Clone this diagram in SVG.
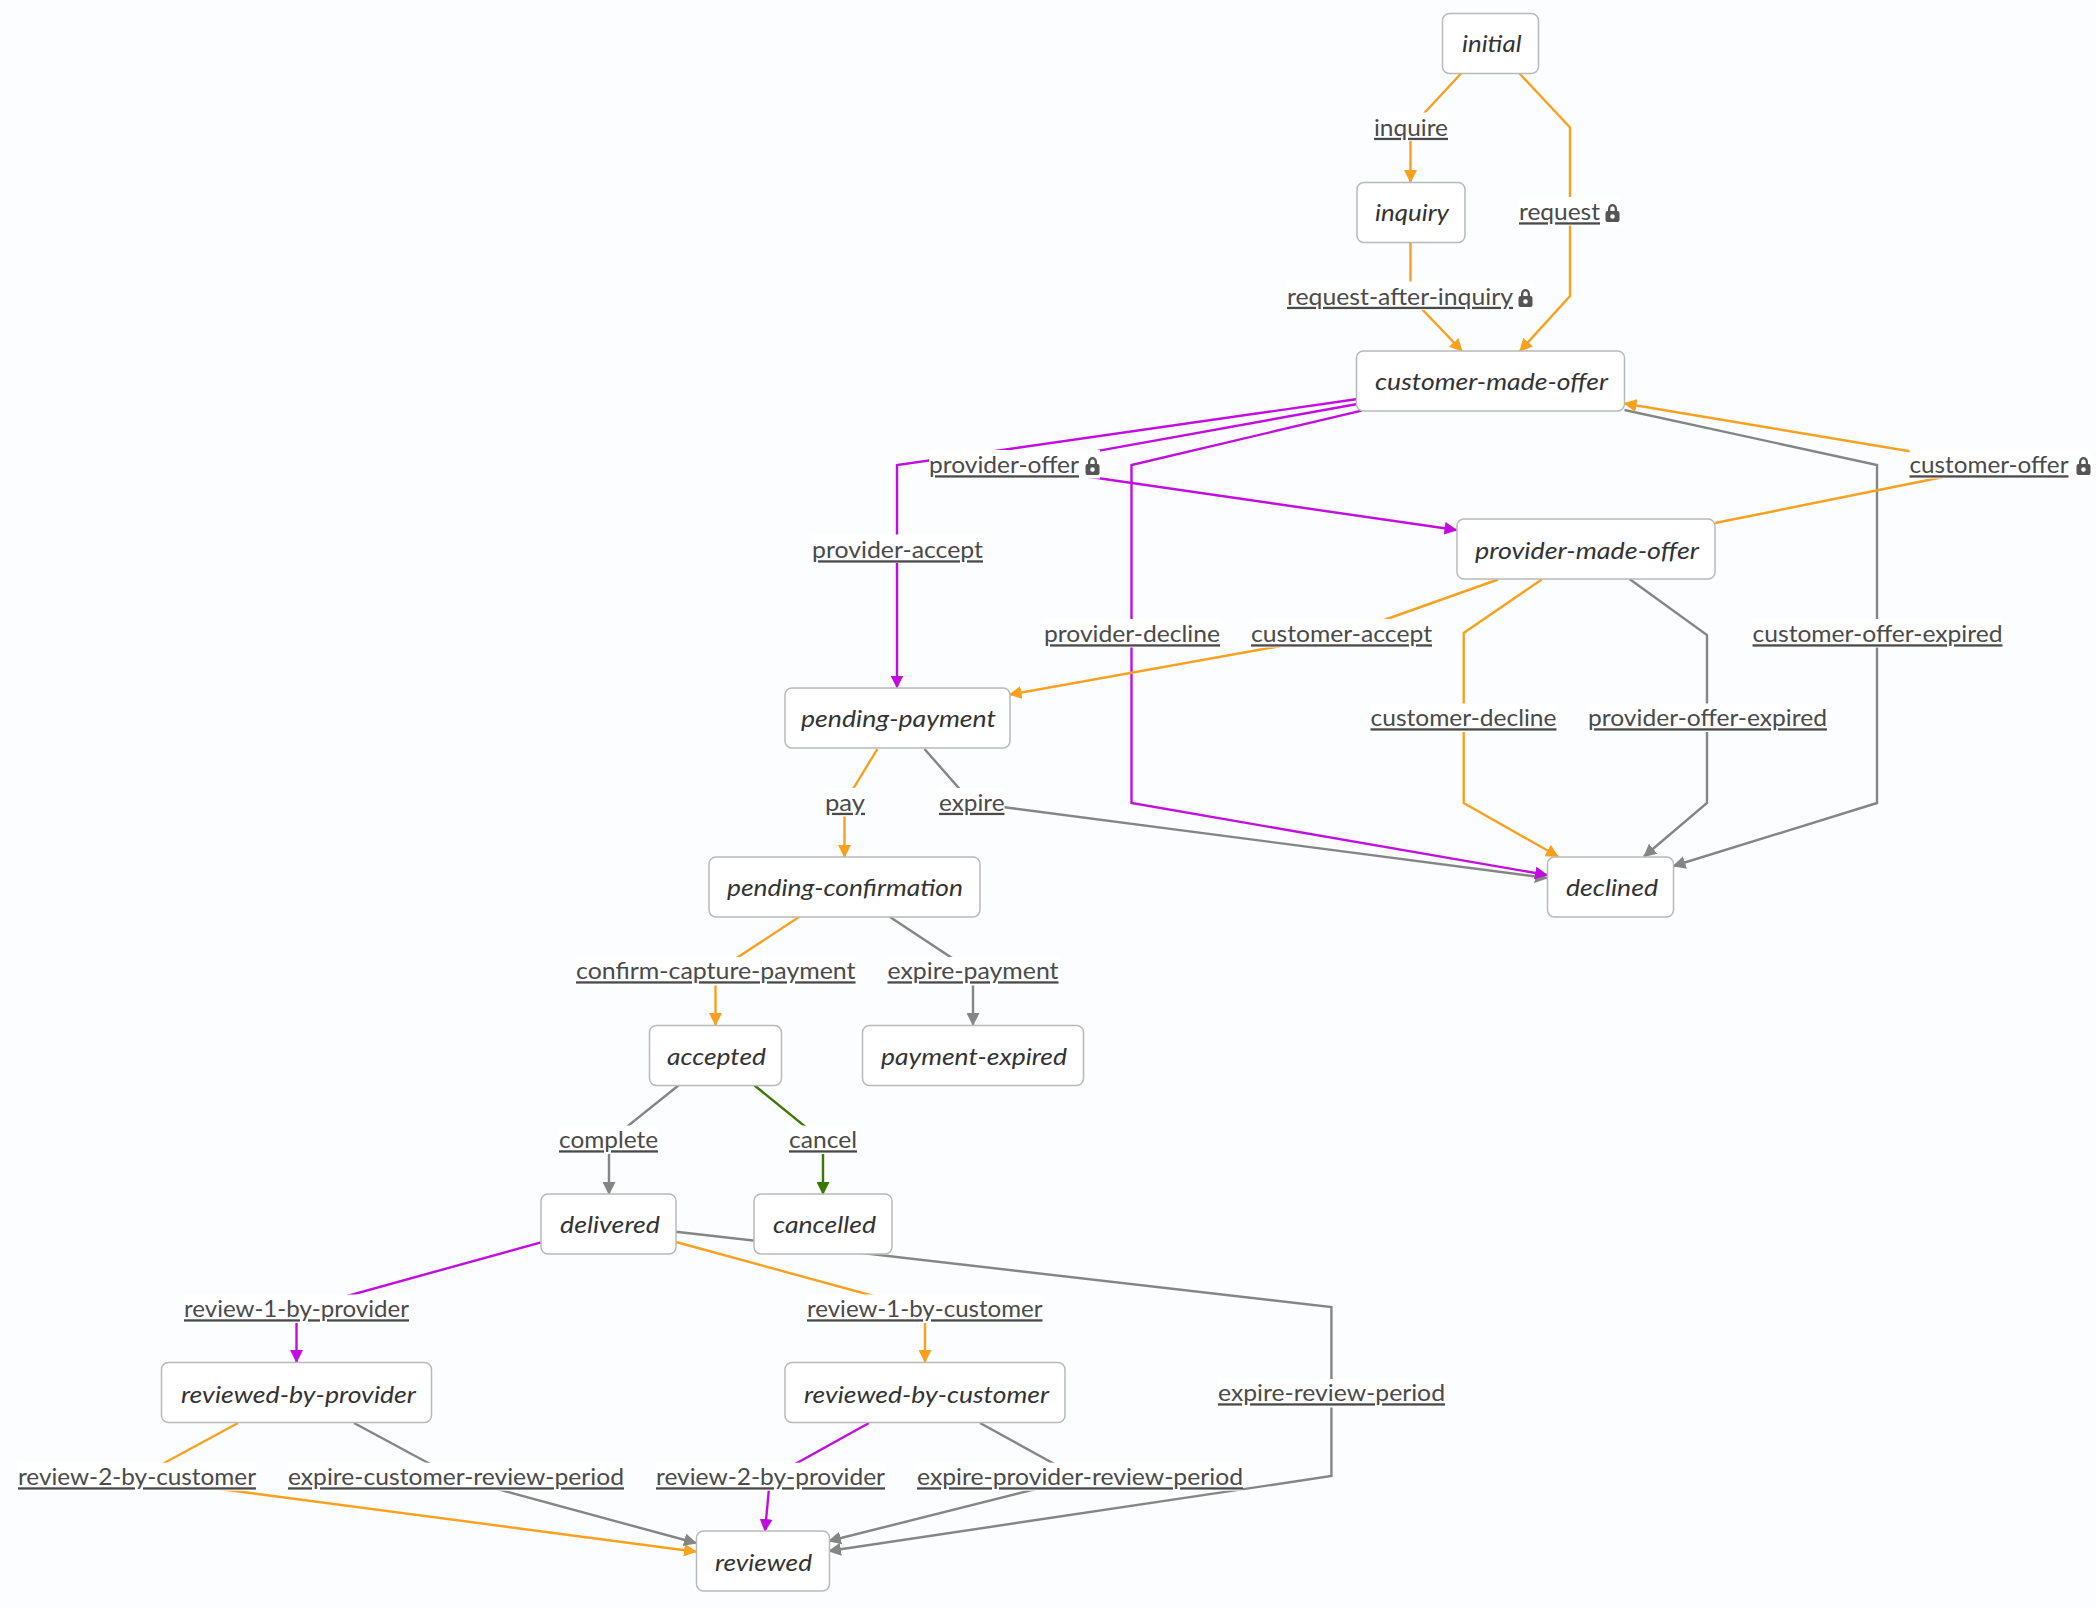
<svg xmlns="http://www.w3.org/2000/svg" width="2096" height="1607" viewBox="0 0 2096 1607">
<style>
text{font-family:"Lato","Liberation Sans",sans-serif;font-size:23px}
.n rect{fill:#fff;stroke:#b9b9b9;stroke-width:1.5}
.n text{font-style:italic;fill:#333}
.l rect{fill:#fff}
.l text{fill:#4a4a4a;text-decoration:underline;text-decoration-thickness:1.8px;text-underline-offset:3px}
.e{fill:none;stroke-width:2.4;stroke-linejoin:miter}
.o{stroke:#f9a11f}.p{stroke:#c20ddf}.g{stroke:#858585}.v{stroke:#3c7800}
</style>
<defs>
<marker id="ao" markerUnits="userSpaceOnUse" markerWidth="13" markerHeight="13" viewBox="0 0 13 13" refX="12" refY="6.5" orient="auto"><path d="M0 0L13 6.5L0 13z" fill="#f9a11f"/></marker>
<marker id="ap" markerUnits="userSpaceOnUse" markerWidth="13" markerHeight="13" viewBox="0 0 13 13" refX="12" refY="6.5" orient="auto"><path d="M0 0L13 6.5L0 13z" fill="#c20ddf"/></marker>
<marker id="ag" markerUnits="userSpaceOnUse" markerWidth="13" markerHeight="13" viewBox="0 0 13 13" refX="12" refY="6.5" orient="auto"><path d="M0 0L13 6.5L0 13z" fill="#858585"/></marker>
<marker id="av" markerUnits="userSpaceOnUse" markerWidth="13" markerHeight="13" viewBox="0 0 13 13" refX="12" refY="6.5" orient="auto"><path d="M0 0L13 6.5L0 13z" fill="#3c7800"/></marker>
<symbol id="lock" viewBox="0 0 14 18" overflow="visible"><path fill="#555" fill-rule="evenodd" d="M2.500 7V4.800A4.500 4.800 0 0 1 11.500 4.800V7H12A2 2 0 0 1 14 9V16A2 2 0 0 1 12 18H2A2 2 0 0 1 0 16V9A2 2 0 0 1 2 7ZM4.800 7H9.200V4.800A2.200 2.600 0 0 0 4.800 4.800ZM7 10.200A2.300 2.300 0 1 0 7 14.800A2.300 2.300 0 1 0 7 10.200Z"/></symbol>
</defs>
<rect width="2096" height="1607" fill="#fcfdff"/>
<g id="connectors">
<path class="e g" marker-end="url(#ag)" d="M1624.500 410L1877 465V803L1673.500 866"/>
<path class="e g" marker-end="url(#ag)" d="M1629.500 579L1707 635V803L1644 856.500"/>
<path class="e g" marker-end="url(#ag)" d="M924.500 749L972 803L1547 878"/>
<path class="e p" marker-end="url(#ap)" d="M1361.700 410.700L1131.500 465V803L1547 875"/>
<path class="e o" marker-end="url(#ao)" d="M1461.500 73L1410.500 128V182"/>
<path class="e o" marker-end="url(#ao)" d="M1519 73L1570 127.500V296L1520 351"/>
<path class="e o" marker-end="url(#ao)" d="M1410.500 242V297L1462 351"/>
<path class="e o" marker-end="url(#ao)" d="M1715 523L1998 466L1624.500 403.500"/>
<path class="e p" marker-end="url(#ap)" d="M1356 399.300L897 465V687.500"/>
<path class="e p" marker-end="url(#ap)" d="M1356 404.300L1014 466L1456.500 530"/>
<path class="e o" marker-end="url(#ao)" d="M1498 579.500L1342 635L1009.600 694.600"/>
<path class="e o" marker-end="url(#ao)" d="M1541.700 579.500L1463.700 633V803L1558 856.500"/>
<path class="e o" marker-end="url(#ao)" d="M877.400 749L844.500 803V857"/>
<path class="e o" marker-end="url(#ao)" d="M799 917L715.500 972V1025"/>
<path class="e g" marker-end="url(#ag)" d="M890 917L973 972V1025"/>
<path class="e g" marker-end="url(#ag)" d="M679 1085L609 1141V1194"/>
<path class="e v" marker-end="url(#av)" d="M754 1085L823 1141V1194"/>
<path class="e p" marker-end="url(#ap)" d="M541 1242.300L296.500 1310V1362"/>
<path class="e o" marker-end="url(#ao)" d="M676 1242L925 1310V1362"/>
<path class="e g" marker-end="url(#ag)" d="M676 1231.700L1331.400 1307V1476L829 1551"/>
<path class="e o" marker-end="url(#ao)" d="M238 1423L136.500 1478L696 1551.700"/>
<path class="e g" marker-end="url(#ag)" d="M354 1423L456 1478L696 1543"/>
<path class="e p" marker-end="url(#ap)" d="M869 1423L770 1478L765 1531"/>
<path class="e g" marker-end="url(#ag)" d="M980 1423L1080 1478L829 1541"/>
</g>
<g id="edge-labels" class="l">
<rect x="1374" y="112.500" width="74" height="28.500"/><text x="1374" y="135.800" textLength="74" lengthAdjust="spacingAndGlyphs">inquire</text>
<rect x="1519" y="197" width="101" height="28.500"/><text x="1519" y="220.300" textLength="81" lengthAdjust="spacingAndGlyphs">request</text><use href="#lock" x="1605" y="204" width="15" height="18"/>
<rect x="1287" y="281.500" width="246" height="28.500"/><text x="1287" y="304.800" textLength="226" lengthAdjust="spacingAndGlyphs">request-after-inquiry</text><use href="#lock" x="1518" y="289" width="15" height="18"/>
<rect x="929" y="450" width="171" height="28.500"/><text x="929" y="473.300" textLength="150" lengthAdjust="spacingAndGlyphs">provider-offer</text><use href="#lock" x="1085" y="457" width="15" height="18"/>
<rect x="1909.500" y="450" width="181.500" height="28.500"/><text x="1909.500" y="473.300" textLength="159" lengthAdjust="spacingAndGlyphs">customer-offer</text><use href="#lock" x="2076" y="457" width="15" height="18"/>
<rect x="812" y="534.500" width="171" height="28.500"/><text x="812" y="558.300" textLength="171" lengthAdjust="spacingAndGlyphs">provider-accept</text>
<rect x="1044" y="619" width="176" height="28.500"/><text x="1044" y="642.300" textLength="176" lengthAdjust="spacingAndGlyphs">provider-decline</text>
<rect x="1251" y="619" width="181" height="28.500"/><text x="1251" y="642.300" textLength="181" lengthAdjust="spacingAndGlyphs">customer-accept</text>
<rect x="1752.500" y="619" width="250" height="28.500"/><text x="1752.500" y="642.300" textLength="250" lengthAdjust="spacingAndGlyphs">customer-offer-expired</text>
<rect x="1370.500" y="703.500" width="186" height="28.500"/><text x="1370.500" y="726.300" textLength="186" lengthAdjust="spacingAndGlyphs">customer-decline</text>
<rect x="1588" y="703.500" width="239" height="28.500"/><text x="1588" y="726.300" textLength="239" lengthAdjust="spacingAndGlyphs">provider-offer-expired</text>
<rect x="825" y="788" width="40" height="28.500"/><text x="825" y="810.800" textLength="40" lengthAdjust="spacingAndGlyphs">pay</text>
<rect x="939" y="788" width="65.500" height="28.500"/><text x="939" y="810.800" textLength="65.500" lengthAdjust="spacingAndGlyphs">expire</text>
<rect x="576" y="957" width="279.500" height="28.500"/><text x="576" y="979.300" textLength="279.500" lengthAdjust="spacingAndGlyphs">confirm-capture-payment</text>
<rect x="887.500" y="957" width="171" height="28.500"/><text x="887.500" y="979.300" textLength="171" lengthAdjust="spacingAndGlyphs">expire-payment</text>
<rect x="559" y="1125.500" width="99" height="28.500"/><text x="559" y="1148.300" textLength="99" lengthAdjust="spacingAndGlyphs">complete</text>
<rect x="789" y="1125.500" width="68" height="28.500"/><text x="789" y="1148.300" textLength="68" lengthAdjust="spacingAndGlyphs">cancel</text>
<rect x="184" y="1294.500" width="225" height="28.500"/><text x="184" y="1317.300" textLength="225" lengthAdjust="spacingAndGlyphs">review-1-by-provider</text>
<rect x="807" y="1294.500" width="235.500" height="28.500"/><text x="807" y="1317.300" textLength="235.500" lengthAdjust="spacingAndGlyphs">review-1-by-customer</text>
<rect x="1218" y="1379" width="227" height="28.500"/><text x="1218" y="1401.300" textLength="227" lengthAdjust="spacingAndGlyphs">expire-review-period</text>
<rect x="18" y="1462.700" width="238" height="28"/><text x="18" y="1485.300" textLength="238" lengthAdjust="spacingAndGlyphs">review-2-by-customer</text>
<rect x="288" y="1462.700" width="336" height="28"/><text x="288" y="1485.300" textLength="336" lengthAdjust="spacingAndGlyphs">expire-customer-review-period</text>
<rect x="656" y="1462.700" width="229" height="28"/><text x="656" y="1485.300" textLength="229" lengthAdjust="spacingAndGlyphs">review-2-by-provider</text>
<rect x="917" y="1462.700" width="326" height="28"/><text x="917" y="1485.300" textLength="326" lengthAdjust="spacingAndGlyphs">expire-provider-review-period</text>
</g>
<g id="node-initial" class="n"><rect x="1442.500" y="13.500" width="96" height="60" rx="7"/><text x="1462" y="52" textLength="59.500" lengthAdjust="spacingAndGlyphs">initial</text></g>
<g id="node-inquiry" class="n"><rect x="1357" y="182.500" width="108" height="60" rx="7"/><text x="1375" y="221" textLength="74" lengthAdjust="spacingAndGlyphs">inquiry</text></g>
<g id="node-customer-made-offer" class="n"><rect x="1356.500" y="351" width="268" height="60" rx="7"/><text x="1375" y="390" textLength="233" lengthAdjust="spacingAndGlyphs">customer-made-offer</text></g>
<g id="node-provider-made-offer" class="n"><rect x="1457" y="519" width="258" height="60" rx="7"/><text x="1475" y="559" textLength="224" lengthAdjust="spacingAndGlyphs">provider-made-offer</text></g>
<g id="node-pending-payment" class="n"><rect x="785" y="688" width="225" height="60" rx="7"/><text x="801" y="727" textLength="195" lengthAdjust="spacingAndGlyphs">pending-payment</text></g>
<g id="node-pending-confirmation" class="n"><rect x="709" y="857" width="271" height="60" rx="7"/><text x="727" y="896" textLength="236" lengthAdjust="spacingAndGlyphs">pending-confirmation</text></g>
<g id="node-declined" class="n"><rect x="1547.500" y="857" width="126" height="60" rx="7"/><text x="1566" y="896" textLength="92" lengthAdjust="spacingAndGlyphs">declined</text></g>
<g id="node-accepted" class="n"><rect x="649.500" y="1025.500" width="132" height="60" rx="7"/><text x="667" y="1064.500" textLength="99" lengthAdjust="spacingAndGlyphs">accepted</text></g>
<g id="node-payment-expired" class="n"><rect x="862.500" y="1025.500" width="221" height="60" rx="7"/><text x="881" y="1064.500" textLength="186" lengthAdjust="spacingAndGlyphs">payment-expired</text></g>
<g id="node-delivered" class="n"><rect x="541" y="1194" width="135" height="60" rx="7"/><text x="560" y="1233" textLength="100" lengthAdjust="spacingAndGlyphs">delivered</text></g>
<g id="node-cancelled" class="n"><rect x="754" y="1194" width="138" height="60" rx="7"/><text x="773" y="1233" textLength="103" lengthAdjust="spacingAndGlyphs">cancelled</text></g>
<g id="node-reviewed-by-provider" class="n"><rect x="161.500" y="1362.500" width="270" height="60" rx="7"/><text x="181" y="1402.500" textLength="235" lengthAdjust="spacingAndGlyphs">reviewed-by-provider</text></g>
<g id="node-reviewed-by-customer" class="n"><rect x="785" y="1362.500" width="280" height="60" rx="7"/><text x="804" y="1402.500" textLength="245" lengthAdjust="spacingAndGlyphs">reviewed-by-customer</text></g>
<g id="node-reviewed" class="n"><rect x="696.500" y="1531" width="133" height="60" rx="7"/><text x="715" y="1571" textLength="97" lengthAdjust="spacingAndGlyphs">reviewed</text></g>
</svg>
